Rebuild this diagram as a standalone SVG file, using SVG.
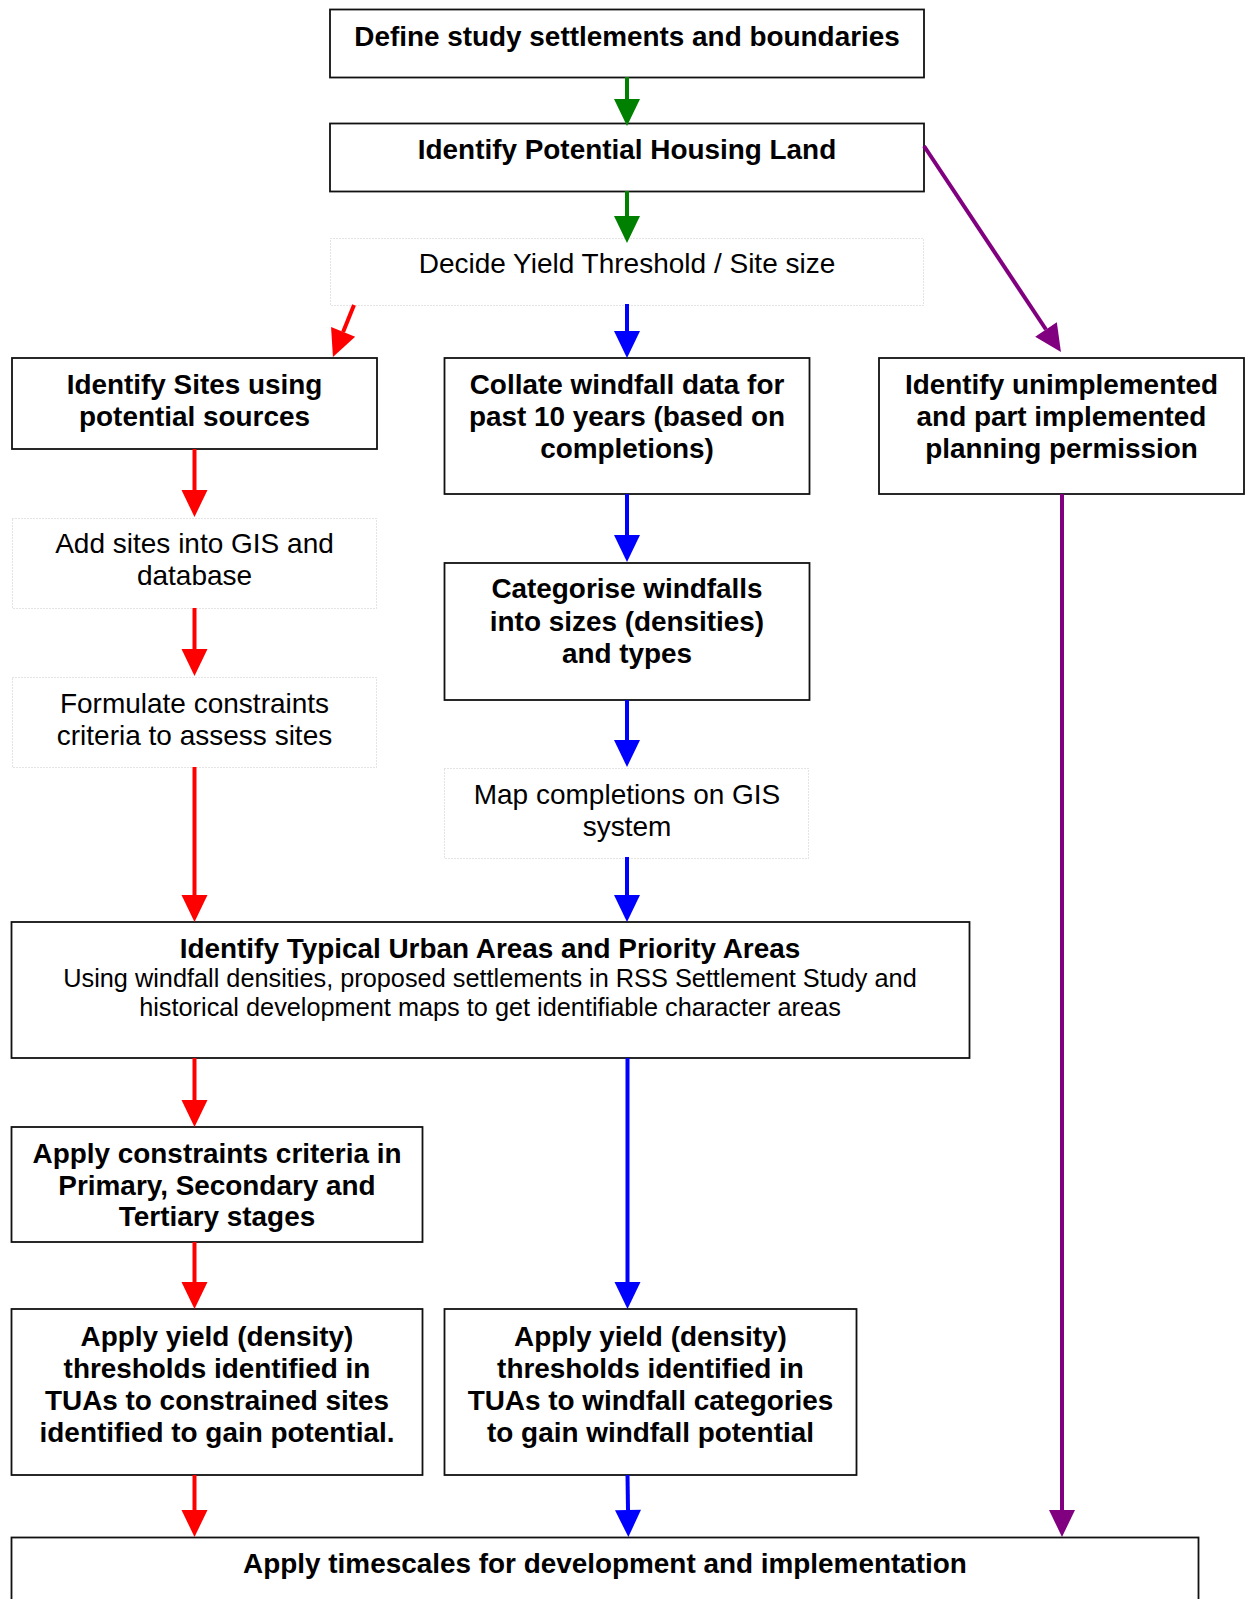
<svg xmlns="http://www.w3.org/2000/svg" width="1249" height="1599" viewBox="0 0 1249 1599">
<style>
.box{fill:#fff;stroke:#111;stroke-width:1.8}
.dot{fill:#fff;stroke:#c8c8c8;stroke-width:1;stroke-dasharray:1 2}
text{font-family:"Liberation Sans",Arial,Helvetica,sans-serif;fill:#000;text-anchor:middle}
.b{font-size:27.9px;font-weight:bold}
.r{font-size:28px}
.s{font-size:25.3px}
.g{stroke:#008000;stroke-width:4;fill:none;marker-end:url(#ag)}
.rd{stroke:#ff0000;stroke-width:4;fill:none;marker-end:url(#ar)}
.bl{stroke:#0000ff;stroke-width:4;fill:none;marker-end:url(#ab)}
.pu{stroke:#800080;stroke-width:4;fill:none;marker-end:url(#ap)}
</style>
<defs>
<marker id="ag" markerUnits="userSpaceOnUse" markerWidth="28" markerHeight="28" refX="0" refY="13" orient="auto" overflow="visible"><path d="M0,0 L27,13 L0,26 Z" fill="#008000"/></marker>
<marker id="ar" markerUnits="userSpaceOnUse" markerWidth="28" markerHeight="28" refX="0" refY="13" orient="auto" overflow="visible"><path d="M0,0 L27,13 L0,26 Z" fill="#ff0000"/></marker>
<marker id="ab" markerUnits="userSpaceOnUse" markerWidth="28" markerHeight="28" refX="0" refY="13" orient="auto" overflow="visible"><path d="M0,0 L27,13 L0,26 Z" fill="#0000ff"/></marker>
<marker id="ap" markerUnits="userSpaceOnUse" markerWidth="28" markerHeight="28" refX="0" refY="13" orient="auto" overflow="visible"><path d="M0,0 L27,13 L0,26 Z" fill="#800080"/></marker>
</defs>
<rect width="1249" height="1599" fill="#fff"/>

<g id="n-define"><rect class="box" x="330" y="9.5" width="594" height="68"/><text class="b" x="627" y="46">Define study settlements and boundaries</text></g>
<g id="n-housing"><rect class="box" x="330" y="123.5" width="594" height="68"/><text class="b" x="627" y="159">Identify Potential Housing Land</text></g>
<g id="n-yield"><rect class="dot" x="330.5" y="238.5" width="593" height="67"/><text class="r" x="627" y="273">Decide Yield Threshold / Site size</text></g>

<g id="n-sites"><rect class="box" x="12" y="358" width="365" height="91"/><text class="b" x="194.5" y="394">Identify Sites using</text><text class="b" x="194.5" y="426">potential sources</text></g>
<g id="n-collate"><rect class="box" x="444.5" y="358" width="365" height="136"/><text class="b" x="627" y="394">Collate windfall data for</text><text class="b" x="627" y="426">past 10 years (based on</text><text class="b" x="627" y="458">completions)</text></g>
<g id="n-unimpl"><rect class="box" x="879" y="358" width="365" height="136"/><text class="b" x="1061.5" y="394">Identify unimplemented</text><text class="b" x="1061.5" y="426">and part implemented</text><text class="b" x="1061.5" y="458">planning permission</text></g>

<g id="n-addgis"><rect class="dot" x="12.5" y="518.5" width="364" height="90"/><text class="r" x="194.5" y="553">Add sites into GIS and</text><text class="r" x="194.5" y="585">database</text></g>
<g id="n-categorise"><rect class="box" x="444.5" y="563" width="365" height="137"/><text class="b" x="627" y="598">Categorise windfalls</text><text class="b" x="627" y="630.5">into sizes (densities)</text><text class="b" x="627" y="663">and types</text></g>
<g id="n-formulate"><rect class="dot" x="12.5" y="677.5" width="364" height="90"/><text class="r" x="194.5" y="713">Formulate constraints</text><text class="r" x="194.5" y="745">criteria to assess sites</text></g>
<g id="n-map"><rect class="dot" x="444.5" y="768.5" width="364" height="90"/><text class="r" x="627" y="804">Map completions on GIS</text><text class="r" x="627" y="836">system</text></g>

<g id="n-typical"><rect class="box" x="11.5" y="922" width="958" height="136"/><text class="b" x="490" y="958">Identify Typical Urban Areas and Priority Areas</text><text class="s" x="490" y="987">Using windfall densities, proposed settlements in RSS Settlement Study and</text><text class="s" x="490" y="1016">historical development maps to get identifiable character areas</text></g>

<g id="n-constraints"><rect class="box" x="11.5" y="1127" width="411" height="115"/><text class="b" x="217" y="1163">Apply constraints criteria in</text><text class="b" x="217" y="1195">Primary, Secondary and</text><text class="b" x="217" y="1226">Tertiary stages</text></g>

<g id="n-yield-sites"><rect class="box" x="11.5" y="1309" width="411" height="166"/><text class="b" x="217" y="1346">Apply yield (density)</text><text class="b" x="217" y="1378">thresholds identified in</text><text class="b" x="217" y="1410">TUAs to constrained sites</text><text class="b" x="217" y="1442">identified to gain potential.</text></g>
<g id="n-yield-windfall"><rect class="box" x="444.5" y="1309" width="412" height="166"/><text class="b" x="650.5" y="1346">Apply yield (density)</text><text class="b" x="650.5" y="1378">thresholds identified in</text><text class="b" x="650.5" y="1410">TUAs to windfall categories</text><text class="b" x="650.5" y="1442">to gain windfall potential</text></g>

<g id="n-timescales"><rect class="box" x="11.5" y="1537.5" width="1187" height="80"/><text class="b" x="605" y="1573">Apply timescales for development and implementation</text></g>

<g id="connectors">
<line class="g" x1="627" y1="77" x2="627" y2="99"/>
<line class="g" x1="627" y1="191" x2="627" y2="216"/>
<line class="pu" x1="924" y1="146" x2="1046" y2="329.5"/>
<line class="rd" x1="354" y1="305" x2="343.1" y2="331.9"/>
<line class="bl" x1="627" y1="304" x2="627" y2="331"/>
<line class="rd" x1="194.5" y1="449" x2="194.5" y2="490"/>
<line class="rd" x1="194.5" y1="608" x2="194.5" y2="649"/>
<line class="rd" x1="194.5" y1="767" x2="194.5" y2="895"/>
<line class="bl" x1="627" y1="494" x2="627" y2="535"/>
<line class="bl" x1="627" y1="700" x2="627" y2="740"/>
<line class="bl" x1="627" y1="857" x2="627" y2="895"/>
<line class="pu" x1="1062" y1="494" x2="1062" y2="1510"/>
<line class="rd" x1="194.5" y1="1058" x2="194.5" y2="1100"/>
<line class="bl" x1="627.5" y1="1058" x2="627.5" y2="1282"/>
<line class="rd" x1="194.5" y1="1242" x2="194.5" y2="1282"/>
<line class="rd" x1="194.5" y1="1475" x2="194.5" y2="1510"/>
<line class="bl" x1="627.5" y1="1475" x2="628" y2="1510"/>
</g>
</svg>
